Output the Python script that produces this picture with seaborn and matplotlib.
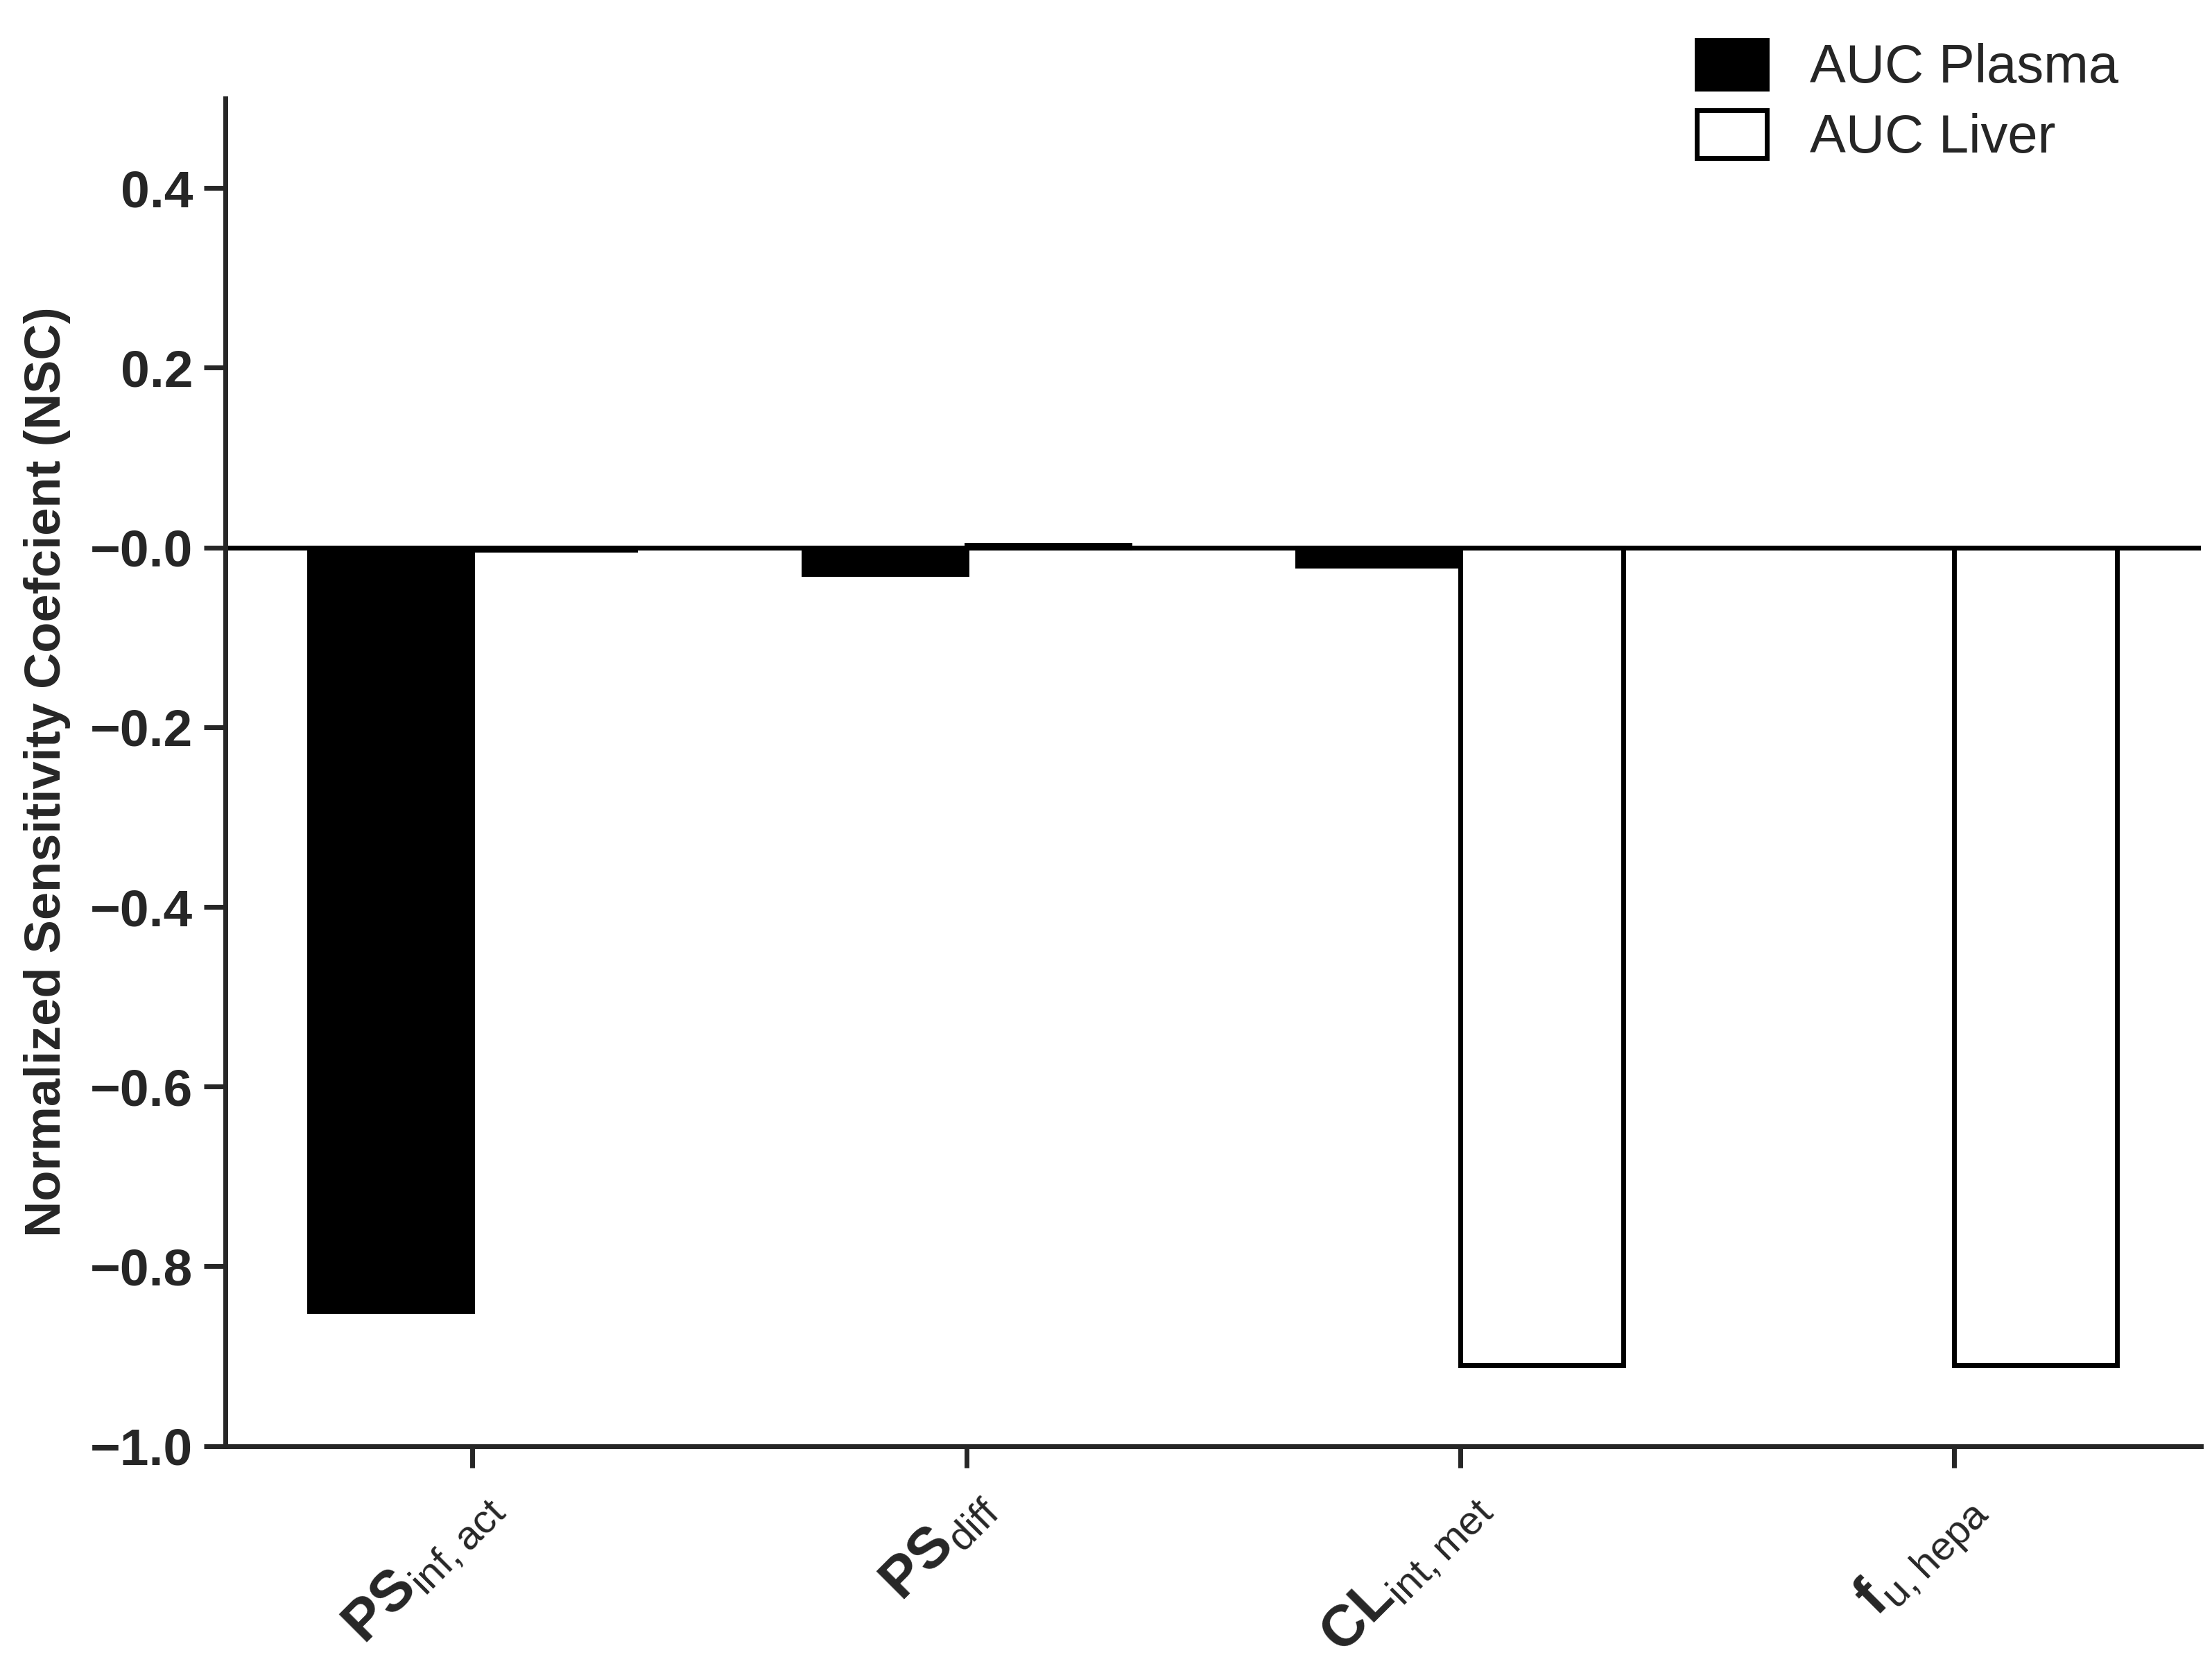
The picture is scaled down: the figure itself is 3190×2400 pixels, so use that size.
import numpy as np
import pandas as pd
import seaborn as sns
import matplotlib.pyplot as plt

params = [r"$\mathbf{PS}_{\mathrm{inf,act}}$", r"$\mathbf{PS}_{\mathrm{diff}}$",
          r"$\mathbf{CL}_{\mathrm{int,met}}$", r"$\mathbf{f}_{\mathrm{u,hepa}}$"]
auc_plasma = [-0.85, -0.03, -0.02, 0.0]
auc_liver = [-0.003, 0.003, -0.91, -0.91]

df = pd.DataFrame({
    "param": params * 2,
    "nsc": auc_plasma + auc_liver,
    "series": ["AUC Plasma"] * 4 + ["AUC Liver"] * 4,
})

sns.set_style("ticks")
plt.rcParams['font.family'] = ['Liberation Sans', 'DejaVu Sans']
plt.rcParams['mathtext.fontset'] = 'custom'
plt.rcParams['mathtext.rm'] = 'Liberation Sans'
plt.rcParams['mathtext.bf'] = 'Liberation Sans:bold'

fig = plt.figure(figsize=(31.9, 24), dpi=100)
ax = fig.add_axes([0.102, 0.131, 0.893, 0.81])
sns.barplot(data=df, x="param", y="nsc", hue="series", width=0.66,
            palette=["black", "white"], edgecolor="black", linewidth=5,
            ax=ax, legend=False)
for bar in ax.patches:
    bar.set_edgecolor("black")

ax.set_ylim(-1.0, 0.5)
ax.set_xlim(-0.5, 3.5)
ax.set_yticks(np.arange(-1.0, 0.41, 0.2))
ax.set_yticklabels([f"{v:.1f}".replace("-", "\u2212") for v in np.arange(-1.0, 0.41, 0.2)],
                   fontsize=54, fontweight="bold")
ax.axhline(0, color="black", lw=5)
ax.set_xticks(range(4))
ax.set_xticklabels(params, fontsize=60, rotation=45, ha="right", rotation_mode="anchor")
ax.set_xlabel("")
ax.set_ylabel("Normalized Sensitivity Coefcient (NSC)", fontsize=52, fontweight="bold", labelpad=20)
sns.despine(ax=ax)
for s in ["left", "bottom"]:
    ax.spines[s].set_linewidth(5)
ax.tick_params(width=5, length=22, pad=12)

from matplotlib.patches import Patch
handles = [Patch(facecolor="black", edgecolor="black", lw=5, label="AUC Plasma"),
           Patch(facecolor="white", edgecolor="black", lw=5, label="AUC Liver")]
fig.legend(handles=handles, loc="upper left", bbox_to_anchor=(0.745, 1.005),
           frameon=False, fontsize=56, handlelength=1.3, handleheight=1.0,
           handletextpad=0.8, labelspacing=0.3)

fig.savefig("out.png", dpi=100)
